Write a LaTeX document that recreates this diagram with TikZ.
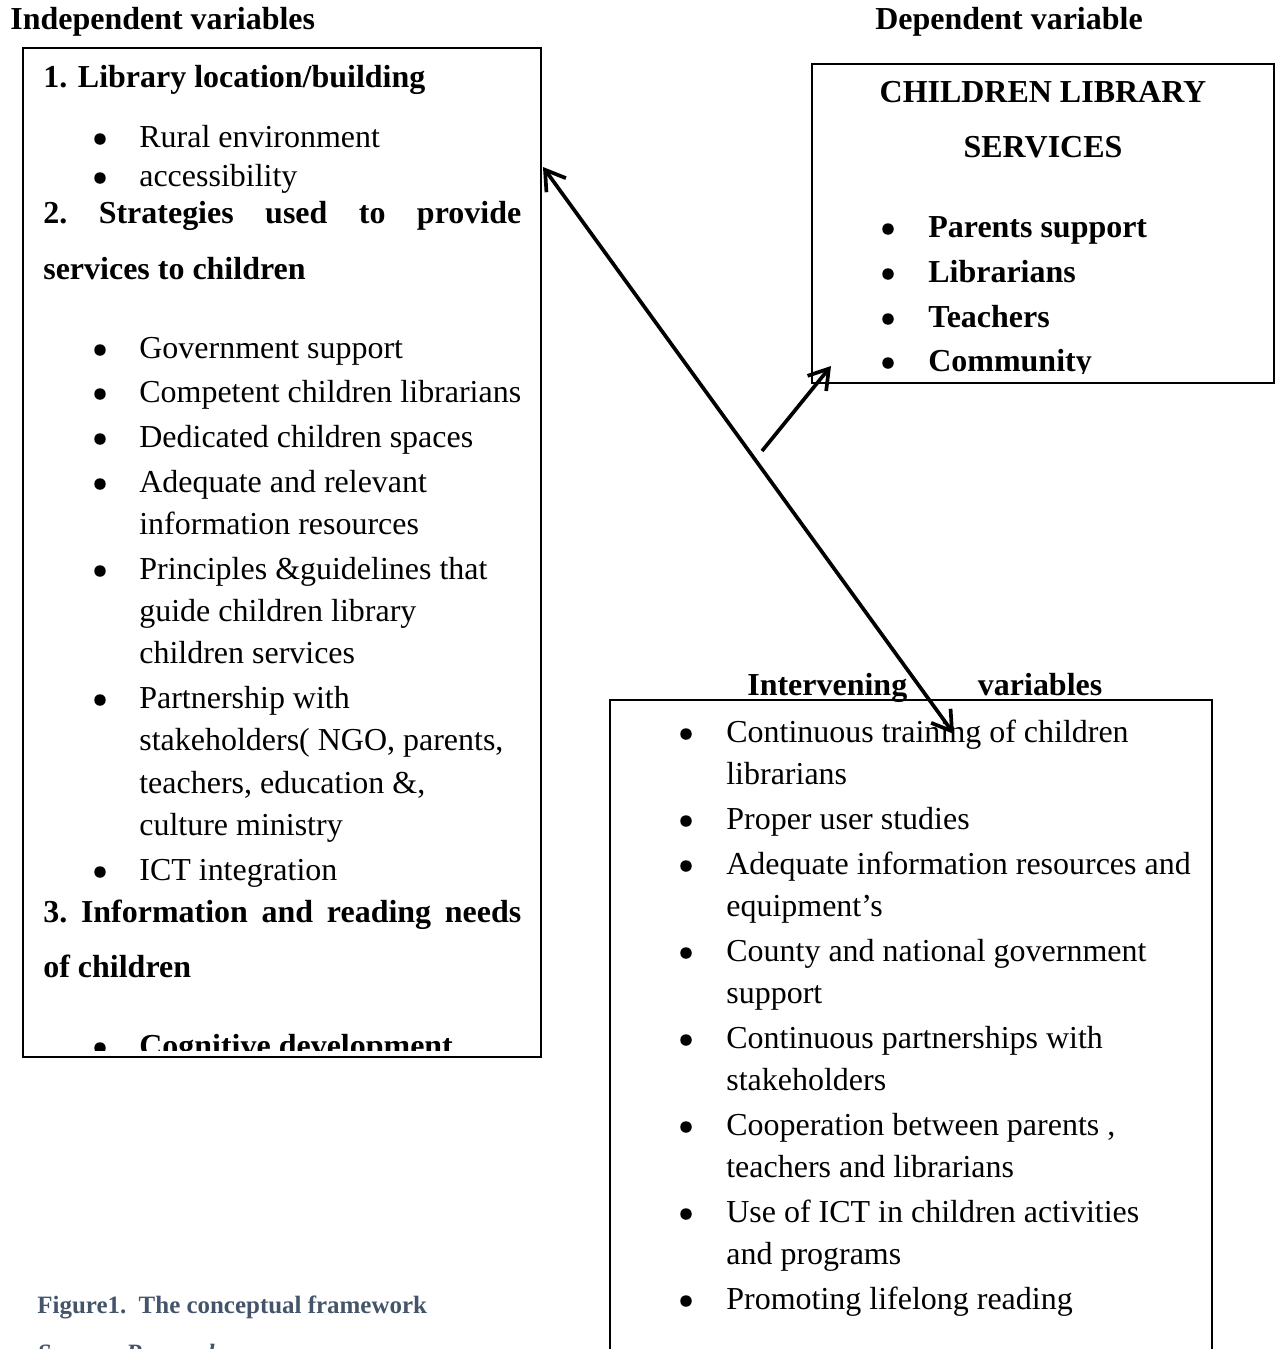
\documentclass[tikz,border=0pt]{standalone}
\usepackage{fontspec}
\setmainfont{Liberation Serif}
\usetikzlibrary{arrows.meta}
\definecolor{capblue}{HTML}{44546A}

\begin{document}
\begin{tikzpicture}[x=0.02cm,y=-0.02cm,
		txt/.style={anchor=base west,inner sep=0pt,font=\fontsize{18.2}{22}\selectfont},
		btxt/.style={txt,font=\fontsize{18.2}{22}\selectfont\bfseries},
		bul/.style={circle,fill,inner sep=0pt,minimum size=0.23cm},
		box/.style={draw,line width=1.1pt},
		barb/.tip={Straight Barb[length=3.8mm,width=4.8mm]},
		arr/.style={line width=2.1pt,-barb},
		darr/.style={line width=2.1pt,barb-barb},
		captxt/.style={anchor=base west,inner sep=0pt,text=capblue,font=\fontsize{14.2}{17}\selectfont\bfseries}]
	\useasboundingbox (0,0) rectangle (1277,1349);

	% titles above the boxes
	\node[btxt] (indep) at (10,29) {Independent variables};
	\node[btxt] (dep) at (875,29) {Dependent variable};

	% independent variables
	\draw[box] (23,48) rectangle (541,1057);
	\begin{scope}
		\clip (23,48) rectangle (541,1050);
		\node[btxt] (h1) at (43,87) {1. Library location/building};
		\node[btxt] (h2) at (43,223) {\makebox[9.56cm][s]{2.\hfill Strategies\hfill used\hfill to\hfill provide}};
		\node[btxt] (h2b) at (43,279) {services to children};
		\node[btxt] (h3) at (43,922) {\makebox[9.56cm][s]{3.\hfill Information\hfill and\hfill reading\hfill needs}};
		\node[btxt] (h3b) at (43,977) {of children};
		\foreach \y [count=\i] in {147,186,358,402,447,492,579,708,880,1056}
			\node[bul] (lb\i) at (100,\y-8) {};
		\foreach \y/\t [count=\i] in {147/Rural environment,186/accessibility,
				358/Government support,402/Competent children librarians,
				447/Dedicated children spaces,492/Adequate and relevant,
				534/information resources,579/Principles \&guidelines that,
				621/guide children library,663/children services,
				708/Partnership with,750/{stakeholders( NGO, parents,},
				793/{teachers, education \&,},835/culture ministry,880/ICT integration}
			\node[txt] (lt\i) at (139,\y) {\t};
		\node[btxt] (lcog) at (139,1056) {Cognitive development};
	\end{scope}

	% dependent variable
	\draw[box] (812,64) rectangle (1274,383);
	\begin{scope}
		\clip (812,64) rectangle (1274,373);
		\node[btxt,anchor=base] (dh1) at (1043,102) {CHILDREN LIBRARY};
		\node[btxt,anchor=base] (dh2) at (1043,157) {SERVICES};
		\foreach \y/\t [count=\i] in {237/Parents support,282/Librarians,327/Teachers,371/Community}{
			\node[bul] (db\i) at (888,\y-8) {};
			\node[btxt] (dt\i) at (928,\y) {\t};
		}
	\end{scope}

	% intervening variables
	\draw[box] (610,1360) -- (610,700) -- (1212,700) -- (1212,1360);
	\node[btxt] (ih) at (747,695) {\makebox[7.1cm][s]{Intervening\hfill variables}};
	\foreach \y [count=\i] in {742,829,874,961,1048,1135,1222,1309}
		\node[bul] (ib\i) at (686,\y-8) {};
	\foreach \y/\t [count=\i] in {742/Continuous training of children,784/librarians,
			829/Proper user studies,874/Adequate information resources and,
			916/equipment’s,961/County and national government,1003/support,
			1048/Continuous partnerships with,1090/stakeholders,
			1135/{Cooperation between parents ,},1177/teachers and librarians,
			1222/Use of ICT in children activities,1264/and programs,
			1309/Promoting lifelong reading}
		\node[txt] (it\i) at (726,\y) {\t};

	% caption
	\node[captxt] (fig) at (37,1313) {Figure1.\ \ The conceptual framework};
	\node[captxt,font=\fontsize{14.2}{17}\selectfont\bfseries\itshape] (src) at (37,1361) {Source: Researcher};

	% arrows
	\coordinate (libtip) at (543,167);
	\coordinate (inttip) at (954,734);
	\coordinate (srvfoot) at (762,451);
	\coordinate (srvtip) at (831,366);
	\draw[darr] (libtip) -- (inttip);
	\draw[arr] (srvfoot) -- (srvtip);
\end{tikzpicture}
\end{document}
